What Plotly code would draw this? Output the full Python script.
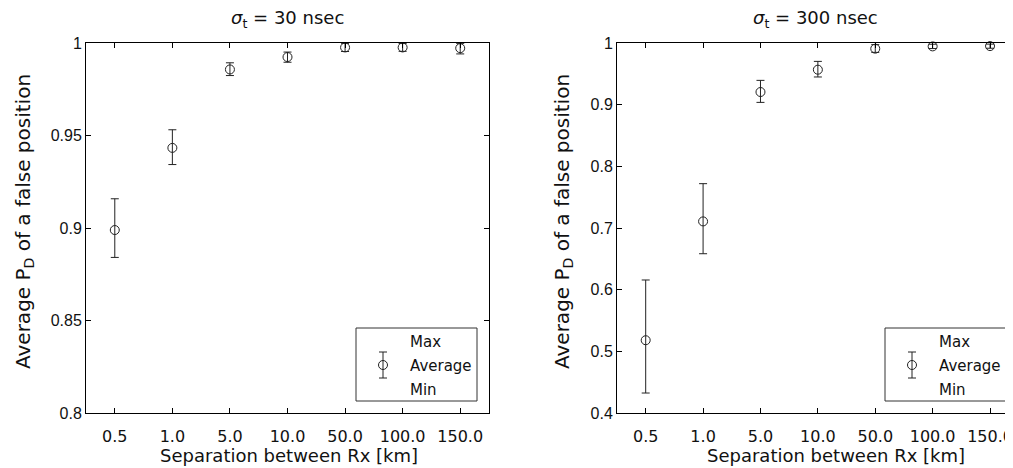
import plotly.graph_objects as go

# ---------------- data ----------------
separations = ["0.5", "1.0", "5.0", "10.0", "50.0", "100.0", "150.0"]

avg_30 = [0.8989, 0.9433, 0.9857, 0.9924, 0.9976, 0.9976, 0.9972]
max_30 = [0.9158, 0.9531, 0.9893, 0.9951, 0.9998, 0.9997, 0.9998]
min_30 = [0.8841, 0.9343, 0.9824, 0.9896, 0.9954, 0.9955, 0.9941]

avg_300 = [0.5180, 0.7107, 0.9205, 0.9567, 0.9908, 0.9945, 0.9950]
max_300 = [0.6157, 0.7719, 0.9394, 0.9702, 0.9973, 0.9980, 0.9982]
min_300 = [0.4324, 0.6583, 0.9037, 0.9449, 0.9848, 0.9910, 0.9915]

titles = ["<i>σ</i><sub>t</sub> = 30 nsec", "<i>σ</i><sub>t</sub> = 300 nsec"]
ytitle = "Average P<sub>D</sub> of a false position"
xtitle = "Separation between Rx [km]"
legend_labels = ["Max", "Average", "Min"]

# ---------------- geometry ----------------
# the page body has an 8px margin, so the figure starts at page pixel (8, 8)
OFF = 8
W, H = 1013 - OFF, 468 - OFF
PLOT_TOP, PLOT_BOTTOM = 43, 413          # page pixels
MT = PLOT_TOP - OFF
MB = H - (PLOT_BOTTOM - OFF)
PH = H - MT - MB


def px(x):
    return (x - OFF) / W


def py(y):
    return (PLOT_BOTTOM - y) / PH


INK = "#222222"
TICKFONT_X = dict(family="DejaVu Sans", size=16, color="#111")
TICKFONT_Y = dict(family="Liberation Sans", size=16, color="#111")

fig = go.Figure()


def add_series(avg, mx, mn, xa, ya):
    fig.add_trace(go.Scatter(
        x=separations, y=avg, xaxis=xa, yaxis=ya, mode="markers",
        marker=dict(symbol="circle-open", size=9, color=INK, line=dict(width=1, color=INK)),
        error_y=dict(type="data", symmetric=False,
                     array=[m - a for m, a in zip(mx, avg)],
                     arrayminus=[a - m for a, m in zip(avg, mn)],
                     color=INK, thickness=1, width=4),
        cliponaxis=False, showlegend=False,
    ))


add_series(avg_30, max_30, min_30, "x", "y")
add_series(avg_300, max_300, min_300, "x2", "y2")

axis_common = dict(showline=True, linecolor="black", linewidth=1, ticks="inside",
                   ticklen=5, tickcolor="black", tickwidth=1, showgrid=False, zeroline=False)

fig.update_layout(
    width=W, height=H,
    margin=dict(l=0, r=0, t=MT, b=MB),
    paper_bgcolor="white", plot_bgcolor="white",
    xaxis=dict(domain=[px(86), px(489)], anchor="y", type="category",
               range=[-0.5, 6.5], mirror="ticks", tickfont=TICKFONT_X,
               ticklabelstandoff=9, **axis_common),
    yaxis=dict(domain=[0, 1], anchor="x", range=[0.8, 1.0], tick0=0.8, dtick=0.05,
               mirror="ticks", tickfont=TICKFONT_Y, **axis_common),
    xaxis2=dict(domain=[px(617), 1.0], anchor="y2", type="category",
                range=[-0.5, 6.4], mirror="ticks", tickfont=TICKFONT_X,
                ticklabelstandoff=9, **axis_common),
    yaxis2=dict(domain=[0, 1], anchor="x2", range=[0.4, 1.0], tick0=0.4, dtick=0.1,
                mirror=False, tickfont=TICKFONT_Y, **axis_common),
)

annotations = []
shapes = []

# titles
for cx, t in zip([287.5, 815], titles):
    annotations.append(dict(x=px(cx), y=py(19), xref="paper", yref="paper", text=t,
                            showarrow=False, xanchor="center", yanchor="middle",
                            font=dict(family="DejaVu Sans", size=18, color="#111")))
# x titles
for cx in [288.5, 836]:
    annotations.append(dict(x=px(cx), y=py(455), xref="paper", yref="paper", text=xtitle,
                            showarrow=False, xanchor="center", yanchor="middle",
                            font=dict(family="DejaVu Sans", size=18, color="#111")))
# y titles
for cx in [24, 563]:
    annotations.append(dict(x=px(cx), y=py(222), xref="paper", yref="paper", text=ytitle,
                            showarrow=False, xanchor="center", yanchor="middle", textangle=-90,
                            font=dict(family="DejaVu Sans", size=20, color="#111")))

# legends (drawn boxes)
for bx0, bx1 in [(356, 477), (885, 1007)]:
    by0, by1 = 328, 401
    shapes.append(dict(type="rect", xref="paper", yref="paper",
                       x0=px(bx0), x1=px(bx1), y0=py(by1), y1=py(by0),
                       line=dict(color="#333", width=1), fillcolor="white"))
    sx = bx0 + 27
    cy = 365
    shapes.append(dict(type="line", xref="paper", yref="paper",
                       x0=px(sx), x1=px(sx), y0=py(352), y1=py(378),
                       line=dict(color=INK, width=1)))
    for yy in (352, 378):
        shapes.append(dict(type="line", xref="paper", yref="paper",
                           x0=px(sx - 4), x1=px(sx + 4), y0=py(yy), y1=py(yy),
                           line=dict(color=INK, width=1)))
    shapes.append(dict(type="circle", xref="paper", yref="paper",
                       x0=px(sx - 4.5), x1=px(sx + 4.5), y0=py(cy + 4.5), y1=py(cy - 4.5),
                       line=dict(color=INK, width=1), fillcolor="rgba(0,0,0,0)"))
    for lab, ly in zip(legend_labels, [341.5, 365.5, 390]):
        annotations.append(dict(x=px(bx0 + 52), y=py(ly), xref="paper", yref="paper",
                                text=lab, showarrow=False, xanchor="left", yanchor="middle",
                                font=dict(family="DejaVu Sans", size=15, color="#111")))

fig.update_layout(annotations=annotations, shapes=shapes)

fig.write_html("out.html")
